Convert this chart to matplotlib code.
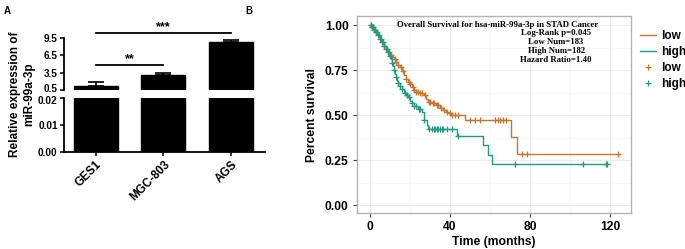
import numpy as np
import matplotlib
matplotlib.use('agg')
import matplotlib.pyplot as plt
import matplotlib.transforms as mtransforms
from matplotlib.lines import Line2D

plt.rcParams['font.family'] = ['Liberation Sans', 'DejaVu Sans']

# ---- panel A data ----
cells = ['GES1', 'MGC-803', 'AGS']
expr = [1.1, 3.15, 8.9]
expr_err = [0.8, 0.25, 0.3]

# ---- panel B data ----
low_t = [0, 1, 2, 3, 4, 5, 6, 7, 8, 9, 10, 11, 12, 13, 14, 15, 16, 17, 18, 19,
         20, 21, 22, 23, 25, 27, 28, 29, 31, 33, 35, 36.5, 38, 39.3, 40.5, 47.5,
         70.5, 73.5]
low_s = [1.0, 0.99, 0.975, 0.96, 0.945, 0.925, 0.905, 0.885, 0.865, 0.85, 0.835,
         0.825, 0.81, 0.795, 0.78, 0.765, 0.745, 0.725, 0.70, 0.685, 0.67, 0.655,
         0.64, 0.63, 0.62, 0.61, 0.59, 0.57, 0.565, 0.555, 0.54, 0.528, 0.518,
         0.509, 0.50, 0.472, 0.376, 0.281]
low_end = 124.5
low_cens = [0.5, 1, 1.5, 2.5, 3.5, 4.5, 5, 6.5, 7, 8, 9.5, 10.5, 11, 12.5, 13, 14,
            15.5, 16.5, 18, 19.5, 20, 21.5, 22, 23, 24, 25, 26, 27.5, 29.5, 30,
            31.5, 32, 33.5, 34, 35.5, 37, 38.5, 40, 41.2, 42.8, 44, 50, 52.7, 55.2,
            62.6, 64.2, 65, 66.8, 68, 76, 78.8, 124.3]

high_t = [0, 1, 2, 3, 4, 5, 6, 7, 8, 9, 10, 10.5, 11, 11.5, 12, 12.5, 13, 13.5, 14,
          15, 16, 17, 18, 19, 20, 21, 22, 24, 26, 27, 28.5, 29.3, 43.5, 56.5, 59, 61]
high_s = [1.0, 0.99, 0.975, 0.96, 0.945, 0.925, 0.905, 0.885, 0.865, 0.85, 0.83,
          0.81, 0.79, 0.77, 0.75, 0.73, 0.71, 0.69, 0.68, 0.66, 0.645, 0.625, 0.61,
          0.60, 0.58, 0.565, 0.55, 0.535, 0.518, 0.475, 0.445, 0.42, 0.383, 0.333,
          0.28, 0.226]
high_end = 118.6
high_cens = [0.5, 1, 1.5, 2, 3, 4, 5.5, 6, 7, 8.5, 9, 10, 11, 12, 13, 14, 15, 16,
             17.5, 18.5, 19.5, 21, 22, 23, 24.5, 25, 27, 29.8, 31, 32, 32.6, 33.5,
             34.3, 35.1, 36, 36.8, 38.5, 41, 44, 72.6, 106.8, 118, 118.5]

col_low = '#C4772F'
col_high = '#1F9A83'

fig = plt.figure(figsize=(6.85, 2.49), dpi=100)

# ---- panel A: broken-axis bar chart ----
ax_top = fig.add_axes([0.0934, 0.639, 0.2934, 0.208])
ax_bot = fig.add_axes([0.0934, 0.3896, 0.2934, 0.2164])
x = np.arange(len(cells))
for ax in (ax_top, ax_bot):
    ax.bar(x, expr, width=0.65, color='black', edgecolor='black')
    ax.set_xlim(-0.47, 2.5)
    for s in ('top', 'right'):
        ax.spines[s].set_visible(False)
    for s in ('left', 'bottom'):
        ax.spines[s].set_linewidth(1.3)
    ax.tick_params(width=1.1, length=3, labelsize=7.2, pad=1.5)

ax_top.errorbar(x, expr, yerr=[np.zeros(3), expr_err], fmt='none', ecolor='black',
                elinewidth=1.2, capsize=6, capthick=1.2)
ax_top.set_ylim(0.5, 9.5)
ax_top.set_yticks([0.5, 3.5, 6.5, 9.5])
ax_top.set_yticklabels(['0.5', '3.5', '6.5', '9.5'], fontweight='bold')
ax_top.spines['bottom'].set_visible(False)
ax_top.set_xticks([])

ax_bot.set_ylim(0, 0.02)
ax_bot.set_yticks([0, 0.01, 0.02])
ax_bot.set_yticklabels(['0.00', '0.01', '0.02'], fontweight='bold')
ax_bot.set_xticks(x)
ax_bot.set_xticklabels(cells, rotation=45, ha='right', rotation_mode='anchor',
                       fontweight='bold', fontsize=8.5)

# nudge the two labels at the axis break apart a little
lab05 = ax_top.get_yticklabels()[0]
lab05.set_transform(lab05.get_transform() +
                    mtransforms.ScaledTranslation(0, 1.5 / 72, fig.dpi_scale_trans))
lab002 = ax_bot.get_yticklabels()[-1]
lab002.set_transform(lab002.get_transform() +
                     mtransforms.ScaledTranslation(0, -1.5 / 72, fig.dpi_scale_trans))

# significance brackets
ax_top.plot([0, 2], [10.35, 10.35], color='black', lw=1.3, clip_on=False)
ax_top.text(1, 10.3, '***', ha='center', va='bottom', fontsize=9, fontweight='bold')
ax_top.plot([0, 1], [4.87, 4.87], color='black', lw=1.3, clip_on=False)
ax_top.text(0.5, 4.8, '**', ha='center', va='bottom', fontsize=9, fontweight='bold')

fig.text(0.033, 0.62, 'Relative expression of\nmiR-99a-3p', rotation=90, ha='center',
         va='center', fontsize=8.5, fontweight='bold', linespacing=1.25)
fig.text(0.006, 0.975, 'A', fontsize=7, fontweight='bold', va='top')
fig.text(0.358, 0.975, 'B', fontsize=7, fontweight='bold', va='top')

# ---- panel B: Kaplan-Meier ----
axk = fig.add_axes([0.521, 0.1446, 0.4, 0.7911])


def step_at(times, surv, q):
    idx = np.searchsorted(times, q, side='right') - 1
    return np.asarray(surv)[idx]


for t, s, end, cens, c in ((low_t, low_s, low_end, low_cens, col_low),
                           (high_t, high_s, high_end, high_cens, col_high)):
    axk.step(np.append(t, end), np.append(s, s[-1]), where='post', color=c, lw=1.0)
    axk.plot(cens, step_at(t, s, cens), ls='none', marker='+', ms=5, mew=0.9,
             color=c)

axk.set_xlim(-6.5, 130.5)
axk.set_ylim(-0.044, 1.05)
axk.set_xticks([0, 40, 80, 120])
axk.set_yticks([0, 0.25, 0.5, 0.75, 1.0])
axk.set_yticklabels(['0.00', '0.25', '0.50', '0.75', '1.00'])
axk.set_xticks([20, 60, 100], minor=True)
axk.set_yticks([0.125, 0.375, 0.625, 0.875], minor=True)
axk.grid(True, which='major', color='#ebebeb', lw=0.7)
axk.grid(True, which='minor', color='#f4f4f4', lw=0.5)
axk.set_axisbelow(True)
for sp in axk.spines.values():
    sp.set_color('#b3b3b3')
    sp.set_linewidth(1.0)
axk.tick_params(which='major', length=3, color='#444444', labelsize=8.7, pad=3)
axk.tick_params(which='minor', length=0)
for lab in axk.get_xticklabels() + axk.get_yticklabels():
    lab.set_fontweight('bold')
axk.set_xlabel('Time (months)', fontsize=8.7, fontweight='bold', labelpad=2)
axk.set_ylabel('Percent survival', fontsize=8.7, fontweight='bold', labelpad=5)

axk.text(0.88, 0.955, 'Overall Survival for hsa-miR-99a-3p in STAD Cancer',
         transform=axk.transAxes, ha='right', va='center', fontsize=6.3,
         fontweight='bold', family=['Liberation Serif', 'DejaVu Serif'])
axk.text(0.727, 0.935, 'Log-Rank p=0.045\nLow Num=183\nHigh Num=182\nHazard Ratio=1.40',
         transform=axk.transAxes, ha='center', va='top', fontsize=6.3,
         fontweight='bold', family=['Liberation Serif', 'DejaVu Serif'],
         linespacing=1.15)

handles = [Line2D([], [], color=col_low, lw=1.0),
           Line2D([], [], color=col_high, lw=1.0),
           Line2D([], [], color=col_low, ls='none', marker='+', ms=5, mew=0.9),
           Line2D([], [], color=col_high, ls='none', marker='+', ms=5, mew=0.9)]
leg = fig.legend(handles, ['low', 'high', 'low', 'high'], loc='upper left',
                 bbox_to_anchor=(0.934, 0.88), frameon=False, fontsize=8.5,
                 handlelength=1.4, handletextpad=0.4, labelspacing=0.35,
                 borderaxespad=0, borderpad=0)
for t in leg.get_texts():
    t.set_fontweight('bold')

fig.savefig('out.png', dpi=100)
